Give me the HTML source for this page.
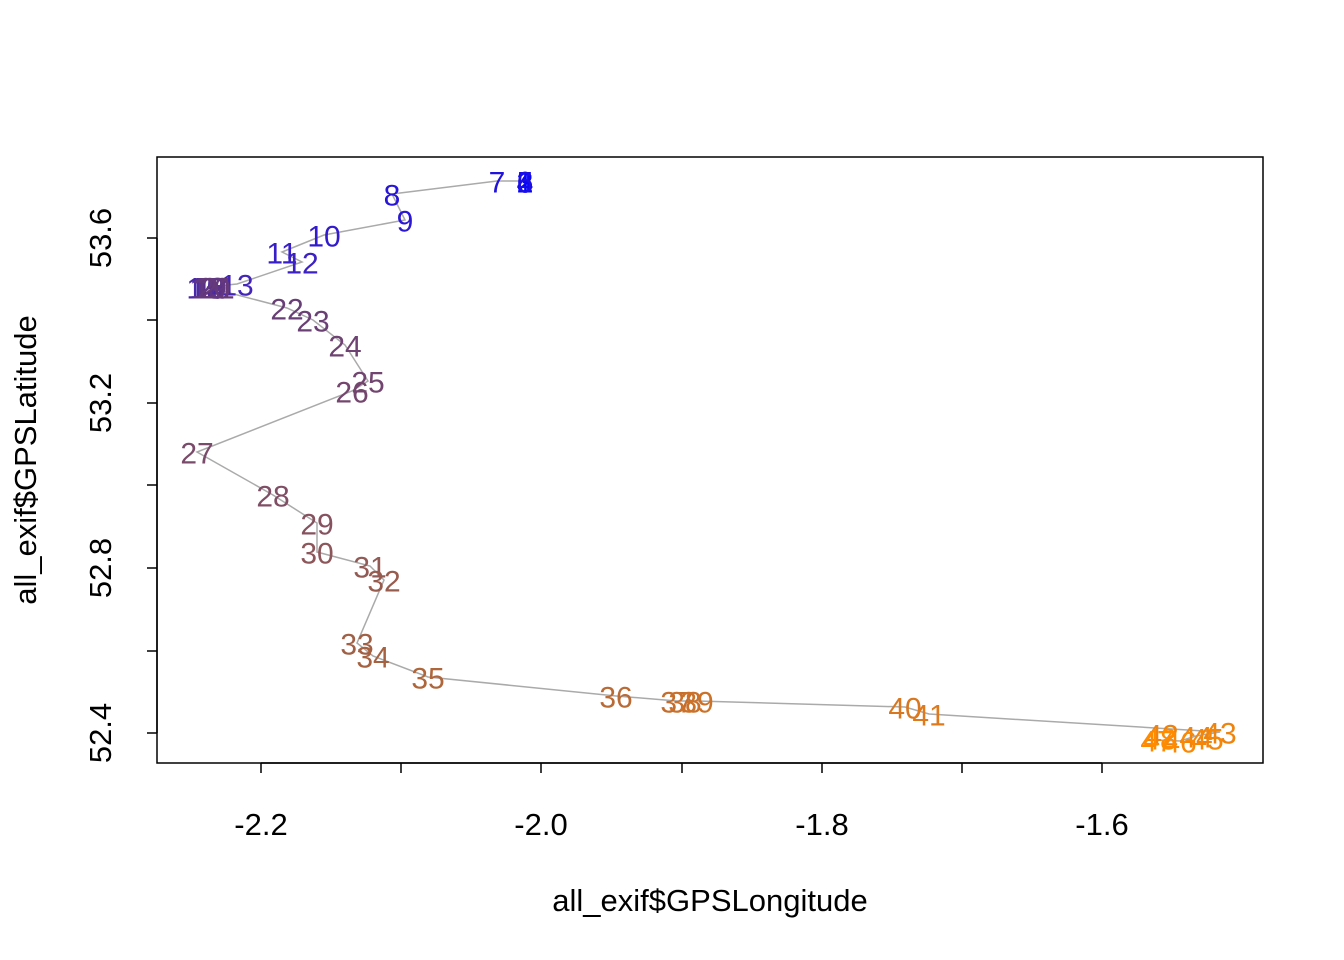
<!DOCTYPE html>
<html><head><meta charset="utf-8"><style>body{margin:0;background:#fff}svg{display:block}text{font-family:"Liberation Sans",Arial,sans-serif}</style></head><body>
<svg width="1344" height="960" viewBox="0 0 1344 960" xmlns="http://www.w3.org/2000/svg">
<rect x="157" y="157" width="1106" height="606" fill="none" stroke="#000" stroke-width="1.5"/>
<g stroke="#000" stroke-width="1.5">
<line x1="261" y1="763" x2="1102" y2="763"/>
<line x1="261" y1="763" x2="261" y2="773"/><line x1="401" y1="763" x2="401" y2="773"/><line x1="541" y1="763" x2="541" y2="773"/><line x1="682" y1="763" x2="682" y2="773"/><line x1="822" y1="763" x2="822" y2="773"/><line x1="962" y1="763" x2="962" y2="773"/><line x1="1102" y1="763" x2="1102" y2="773"/>
<line x1="157" y1="238" x2="157" y2="733"/>
<line x1="147" y1="238" x2="157" y2="238"/><line x1="147" y1="320" x2="157" y2="320"/><line x1="147" y1="403" x2="157" y2="403"/><line x1="147" y1="485" x2="157" y2="485"/><line x1="147" y1="568" x2="157" y2="568"/><line x1="147" y1="651" x2="157" y2="651"/><line x1="147" y1="733" x2="157" y2="733"/>
</g>
<g font-size="31" text-anchor="middle">
<text x="261" y="835">-2.2</text><text x="541" y="835">-2.0</text><text x="822" y="835">-1.8</text><text x="1102" y="835">-1.6</text>
<text transform="translate(111,238) rotate(-90)">53.6</text>
<text transform="translate(111,403) rotate(-90)">53.2</text>
<text transform="translate(111,568) rotate(-90)">52.8</text>
<text transform="translate(111,733) rotate(-90)">52.4</text>
<text x="710" y="911">all_exif$GPSLongitude</text>
<text transform="translate(36,460) rotate(-90)">all_exif$GPSLatitude</text>
</g>
<polyline fill="none" stroke="#aaa" stroke-width="1.5" points="525,181 497,181 392,194 405,220 324,235 282,252 302,262 237,284 207,287 287,308 313,320 345,345 368,381 352,391 197,452 273,495 317,523 317,552 370,566 384,580 357,643 373,656 428,677 616,696 677,701 685,701 697,701 905,707 929,714 1220,732 1196,736 1180,741 1155,740"/>
<g font-size="30" text-anchor="middle" dominant-baseline="central">
<text x="525" y="183" fill="rgb(0,0,255)">1</text>
<text x="525" y="183" fill="rgb(6,3,249)">2</text>
<text x="525" y="183" fill="rgb(11,6,244)">3</text>
<text x="525" y="183" fill="rgb(17,9,238)">4</text>
<text x="525" y="183" fill="rgb(22,12,233)">5</text>
<text x="525" y="183" fill="rgb(28,15,227)">6</text>
<text x="497" y="183" fill="rgb(33,18,222)">7</text>
<text x="392" y="196" fill="rgb(39,21,216)">8</text>
<text x="405" y="222" fill="rgb(44,24,211)">9</text>
<text x="324" y="237" fill="rgb(50,27,205)">10</text>
<text x="282" y="254" fill="rgb(55,30,200)">11</text>
<text x="302" y="264" fill="rgb(61,33,194)">12</text>
<text x="237" y="286" fill="rgb(67,37,188)">13</text>
<text x="203" y="289" fill="rgb(72,40,170)">14</text>
<text x="206" y="289" fill="rgb(78,43,160)">15</text>
<text x="209" y="289" fill="rgb(83,46,150)">16</text>
<text x="212" y="289" fill="rgb(89,49,140)">17</text>
<text x="208" y="289" fill="rgb(94,52,135)">18</text>
<text x="210" y="289" fill="rgb(98,55,130)">19</text>
<text x="214" y="289" fill="rgb(100,58,125)">20</text>
<text x="218" y="289" fill="rgb(102,58,122)">21</text>
<text x="287" y="310" fill="rgb(104,62,118)">22</text>
<text x="313" y="322" fill="rgb(106,64,116)">23</text>
<text x="345" y="347" fill="rgb(110,66,114)">24</text>
<text x="368" y="383" fill="rgb(114,68,112)">25</text>
<text x="352" y="393" fill="rgb(116,70,110)">26</text>
<text x="197" y="454" fill="rgb(122,74,106)">27</text>
<text x="273" y="497" fill="rgb(128,78,100)">28</text>
<text x="317" y="525" fill="rgb(134,82,95)">29</text>
<text x="317" y="554" fill="rgb(140,86,90)">30</text>
<text x="370" y="568" fill="rgb(146,90,84)">31</text>
<text x="384" y="582" fill="rgb(152,92,78)">32</text>
<text x="357" y="645" fill="rgb(160,96,70)">33</text>
<text x="373" y="658" fill="rgb(166,98,64)">34</text>
<text x="428" y="679" fill="rgb(174,102,58)">35</text>
<text x="616" y="698" fill="rgb(186,106,52)">36</text>
<text x="677" y="703" fill="rgb(196,110,46)">37</text>
<text x="685" y="703" fill="rgb(200,112,44)">38</text>
<text x="697" y="703" fill="rgb(204,114,40)">39</text>
<text x="905" y="709" fill="rgb(216,119,32)">40</text>
<text x="929" y="716" fill="rgb(222,122,28)">41</text>
<text x="1162" y="736" fill="rgb(236,130,16)">42</text>
<text x="1220" y="734" fill="rgb(238,131,14)">43</text>
<text x="1196" y="738" fill="rgb(240,132,12)">44</text>
<text x="1207" y="740" fill="rgb(244,134,10)">45</text>
<text x="1180" y="743" fill="rgb(249,137,6)">46</text>
<text x="1157" y="742" fill="rgb(252,139,3)">47</text>
<text x="1160" y="740" fill="rgb(255,140,0)">48</text>
</g>
</svg>
</body></html>
